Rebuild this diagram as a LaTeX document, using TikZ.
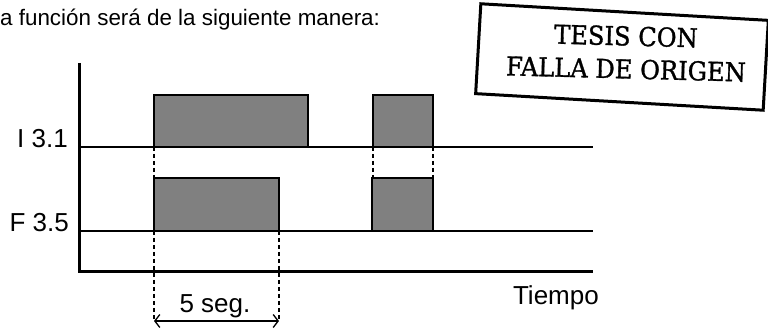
\documentclass[tikz,border=0pt]{standalone}
\usepackage{fontspec}
\setmainfont{Liberation Sans}
\newfontfamily\stampfont{DejaVu Serif}[FakeBold=1.2]
\usepackage{graphicx}
\usetikzlibrary{arrows.meta,positioning}

\tikzset{
    pulse/.style={draw, line width=2pt, fill=black!50},
    guide/.style={line width=1.2pt, dash pattern=on 4pt off 3pt},
    signal/.style={line width=1.3pt},
    axisline/.style={line width=3pt},
    label/.style={inner sep=0pt, font=\fontsize{26}{30}\selectfont},
    stamptext/.style={inner sep=0pt, rotate=-1.5, font=\stampfont\fontsize{26}{28}\selectfont}
}

\begin{document}
\begin{tikzpicture}[x=1pt, y=-1pt]
    \useasboundingbox (0,0) rectangle (768,328);

    \node (intro) [inner sep=0pt, anchor=base west, font=\fontsize{22.4}{26}\selectfont] at (0,26) {a función será de la siguiente manera:};

    % stamp
    \node (stamp) [draw, line width=3pt, rotate=-3.3, minimum width=288pt, minimum height=90pt] at (622,57) {};
    \node (tesis) [stamptext] at (626,36) {\scalebox{0.93}[1]{TESIS CON}};
    \node (falla) [stamptext] at (626,69) {\scalebox{0.93}[1]{FALLA DE ORIGEN}};

    % signal levels
    \draw[signal] (79,147) -- (593,147);
    \draw[signal] (79,231) -- (593,231);
    \node (in) [label, anchor=base east] at (68,148) {I 3.1};
    \node (out) [label, anchor=base east] at (69,232) {F 3.5};

    % pulses
    \draw[pulse] (154,147) rectangle (308,95);
    \draw[pulse] (373,147) rectangle (433,95);
    \draw[pulse] (154,231) rectangle (279,178);
    \draw[pulse] (372,231) rectangle (433,178);

    % guides
    \draw[guide] (154,147) -- (154,178);
    \draw[guide] (373,147) -- (373,178);
    \draw[guide] (433,147) -- (433,178);
    \draw[guide] (154,231) -- (154,321);
    \draw[guide] (279,231) -- (279,321);

    % axes
    \draw[axisline] (79,63) -- (79,272) -- (593,272);
    \node (time) [label, anchor=base east] at (599,305) {Tiempo};

    % delay
    \coordinate (t0) at (154,321);
    \coordinate (t1) at (279,321);
    \draw[line width=1.3pt, {Straight Barb[length=5pt,width=13pt]}-{Straight Barb[length=5pt,width=13pt]}] (t0) -- (t1);
    \node (delay) [label, anchor=base] at (215,313) {5 seg.};
\end{tikzpicture}
\end{document}
